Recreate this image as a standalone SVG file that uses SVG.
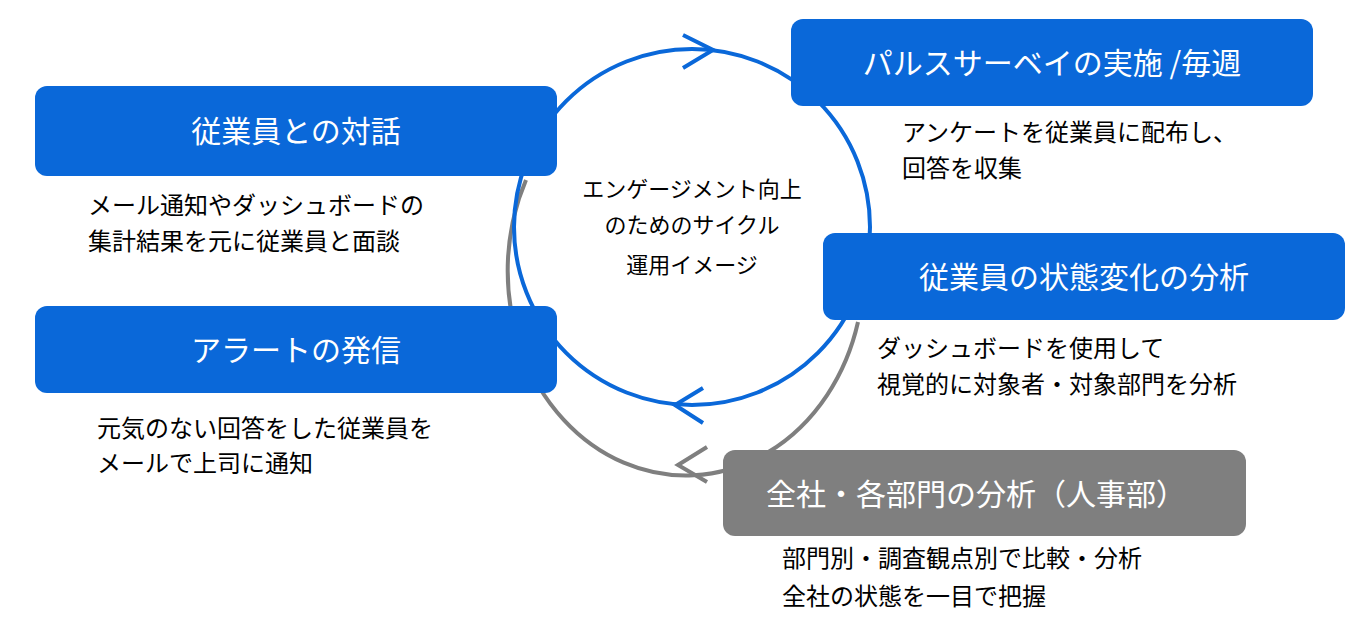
<svg xmlns="http://www.w3.org/2000/svg" width="1368" height="625" viewBox="0 0 1368 625">
<style>
text{font-family:"Noto Sans CJK JP","Noto Sans",sans-serif}
.b{fill:#0a68d9}.g{fill:#7f7f7f}
.t{fill:#fff;font-size:30px;text-anchor:middle}
.s{fill:#000;font-size:24px}
.c{fill:#000;font-size:22px;text-anchor:middle}
.lb{fill:none;stroke:#0a68d9;stroke-width:4}
.lg{fill:none;stroke:#7f7f7f;stroke-width:4}
</style>
<rect width="1368" height="625" fill="#fff"/>
<g id="connectors">
<path class="lg" d="M526 180 A178 205 0 1 0 858 322"/>
<circle class="lb" cx="692" cy="227" r="178"/>
<polyline class="lb" points="683,35 713,50 683,68"/>
<polyline class="lb" points="703,388 675,405 703,423"/>
<polyline class="lg" points="707,447 678,465 707,482"/>
</g>
<g id="n1"><rect class="b" x="35" y="86" width="522" height="90" rx="12"/><text class="t" x="296" y="142">従業員との対話</text>
<text class="s" x="88" y="214">メール通知やダッシュボードの</text><text class="s" x="88" y="250">集計結果を元に従業員と面談</text></g>
<g id="n2"><rect class="b" x="35" y="306" width="522" height="87" rx="12"/><text class="t" x="296" y="361">アラートの発信</text>
<text class="s" x="97" y="437">元気のない回答をした従業員を</text><text class="s" x="97" y="472">メールで上司に通知</text></g>
<g id="n3"><rect class="b" x="791" y="19" width="522" height="87" rx="12"/><text class="t" x="1052" y="74">パルスサーベイの実施 /毎週</text>
<text class="s" x="902" y="141">アンケートを従業員に配布し、</text><text class="s" x="902" y="177">回答を収集</text></g>
<g id="n4"><rect class="b" x="823" y="233" width="522" height="87" rx="12"/><text class="t" x="1084" y="288">従業員の状態変化の分析</text>
<text class="s" x="877" y="357">ダッシュボードを使用して</text><text class="s" x="877" y="393">視覚的に対象者・対象部門を分析</text></g>
<g id="n5"><rect class="g" x="723" y="450" width="523" height="86" rx="12"/><text class="t" x="976" y="505">全社・各部門の分析（人事部）</text>
<text class="s" x="782" y="567">部門別・調査観点別で比較・分析</text><text class="s" x="782" y="605">全社の状態を一目で把握</text></g>
<g id="center"><text class="c" x="692" y="197">エンゲージメント向上</text><text class="c" x="692" y="233">のためのサイクル</text><text class="c" x="692" y="273">運用イメージ</text></g>
</svg>
